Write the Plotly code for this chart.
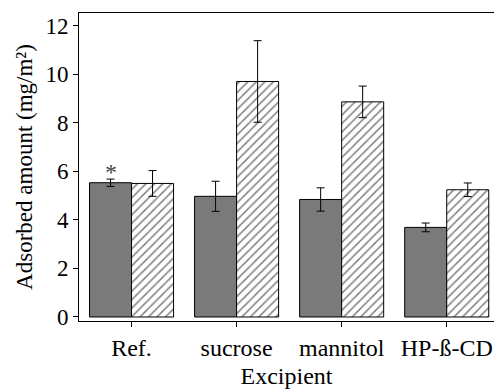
import plotly.graph_objects as go

categories = ["Ref.", "sucrose", "mannitol", "HP-ß-CD"]
solid_vals = [5.53, 4.97, 4.84, 3.69]
solid_err = [0.15, 0.62, 0.48, 0.18]
hatch_vals = [5.50, 9.70, 8.86, 5.24]
hatch_err = [0.53, 1.68, 0.65, 0.28]
y_ticks = [0, 2, 4, 6, 8, 10, 12]

FONT = "Liberation Serif"

fig = go.Figure()
fig.add_trace(go.Bar(
    x=categories, y=solid_vals,
    marker=dict(color="#7a7a7a", line=dict(color="black", width=1)),
    error_y=dict(type="data", array=solid_err, color="black", thickness=1, width=4),
    showlegend=False,
))
fig.add_trace(go.Bar(
    x=categories, y=hatch_vals,
    marker=dict(color="white", line=dict(color="black", width=1),
                pattern=dict(shape="/", fgcolor="black", bgcolor="white", size=6, solidity=0.25)),
    error_y=dict(type="data", array=hatch_err, color="black", thickness=1, width=4),
    showlegend=False,
))

fig.add_annotation(x=categories[0], y=solid_vals[0] + solid_err[0], text="*",
                   xref="x", yref="y", showarrow=False, xshift=-21, yshift=-8,
                   yanchor="bottom", font=dict(family=FONT, size=24, color="#444444"))

fig.update_layout(
    width=494, height=389,
    margin=dict(l=79, r=0, t=13, b=68),
    barmode="group", bargap=0.2, bargroupgap=0,
    plot_bgcolor="white", paper_bgcolor="white",
    font=dict(family=FONT, size=24, color="black"),
)
fig.update_xaxes(
    range=[-0.5, 3.45], showline=True, linecolor="black", linewidth=1, mirror=True,
    ticks="outside", ticklen=5, tickcolor="black", showgrid=False,
    tickfont=dict(family=FONT, size=24),
    title=dict(text="Excipient", font=dict(family=FONT, size=24), standoff=10),
)
fig.update_yaxes(
    range=[-0.165, 12.52], showline=True, linecolor="black", linewidth=1, mirror=False,
    ticks="outside", ticklen=5, tickcolor="black", showgrid=False, zeroline=False,
    tickvals=y_ticks, tickfont=dict(family=FONT, size=23),
    title=dict(text="Adsorbed amount (mg/m²)", font=dict(family=FONT, size=23), standoff=6),
)

fig.write_html("out.html")
